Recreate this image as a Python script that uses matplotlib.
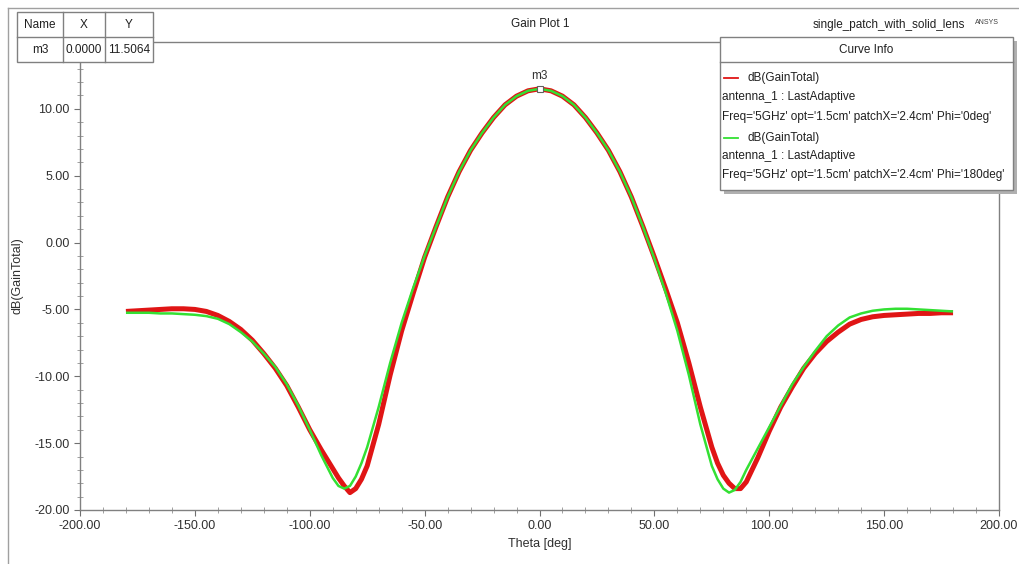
import matplotlib
matplotlib.use("Agg")
import matplotlib.pyplot as plt
from matplotlib.patches import Rectangle
from matplotlib.lines import Line2D

plt.rcParams['font.family'] = ['Liberation Sans', 'DejaVu Sans']

# Theta sweep (deg)
theta = [-180, -175, -170, -165, -160, -155, -150, -145, -140, -135, -130,
         -125, -120, -115, -110, -105, -100, -95, -90, -87.5, -85, -82.5,
         -80, -77.5, -75, -70, -65, -60, -55, -50, -45, -40, -35, -30, -25,
         -20, -15, -10, -5, 0, 5, 10, 15, 20, 25, 30, 35, 40, 45, 50, 55,
         60, 65, 70, 75, 77.5, 80, 82.5, 85, 87.5, 90, 95, 100, 105, 110,
         115, 120, 125, 130, 135, 140, 145, 150, 155, 160, 165, 170, 175, 180]

# dB(GainTotal), Phi = 0deg
gain_phi0 = [-5.15, -5.1, -5.05, -5.0, -4.95, -4.95, -5.0, -5.15, -5.45, -5.9, -6.5,
             -7.3, -8.3, -9.4, -10.7, -12.3, -14.0, -15.5, -16.9, -17.6, -18.2, -18.7,
             -18.4, -17.7, -16.7, -13.6, -9.9, -6.6, -3.8, -1.1, 1.2, 3.4, 5.3, 6.9, 8.2,
             9.35, 10.3, 10.95, 11.35, 11.5, 11.35, 10.95, 10.3, 9.35, 8.2, 6.9, 5.3, 3.4, 1.2, -1.1, -3.5,
             -6.0, -9.0, -12.3, -15.3, -16.5, -17.4, -18.0, -18.4, -18.4, -17.9, -16.1, -14.1, -12.3, -10.8,
             -9.4, -8.3, -7.4, -6.7, -6.1, -5.75, -5.55, -5.45, -5.4, -5.35, -5.3, -5.3, -5.25, -5.25]

# dB(GainTotal), Phi = 180deg
gain_phi180 = [-5.25, -5.25, -5.25, -5.3, -5.3, -5.35, -5.4, -5.5, -5.7, -6.1, -6.7,
               -7.4, -8.3, -9.3, -10.6, -12.2, -14.0, -15.9, -17.6, -18.2, -18.4, -18.2,
               -17.5, -16.5, -15.3, -12.3, -9.0, -6.0, -3.4, -1.0, 1.2, 3.4, 5.3, 6.9, 8.2,
               9.35, 10.3, 10.95, 11.35, 11.5, 11.35, 10.95, 10.3, 9.35, 8.2, 6.9, 5.3, 3.4, 1.2, -1.2, -3.8,
               -6.6, -9.9, -13.6, -16.7, -17.7, -18.4, -18.7, -18.5, -17.9, -17.0, -15.4, -13.8, -12.2, -10.6,
               -9.3, -8.1, -7.0, -6.2, -5.6, -5.3, -5.1, -5.0, -4.95, -4.95, -5.0, -5.05, -5.1, -5.15]

marker_name = 'm3'
marker_x = 0.0
marker_y = 11.5064

legend_lines = [
    ['dB(GainTotal)', 'antenna_1 : LastAdaptive',
     "Freq='5GHz' opt='1.5cm' patchX='2.4cm' Phi='0deg'"],
    ['dB(GainTotal)', 'antenna_1 : LastAdaptive',
     "Freq='5GHz' opt='1.5cm' patchX='2.4cm' Phi='180deg'"],
]
colors = ['#e01515', '#33e033']

W, H = 1019, 564
fig = plt.figure(figsize=(W / 100, H / 100), dpi=100)


def fx(px):
    return px / W


def fy(py):
    return 1 - py / H


def hline(x0, x1, y, color='#808080', lw=1.0, z=5):
    fig.add_artist(Line2D([fx(x0), fx(x1)], [fy(y), fy(y)], transform=fig.transFigure,
                          color=color, lw=lw, zorder=z))


def vline(x, y0, y1, color='#808080', lw=1.0, z=5):
    fig.add_artist(Line2D([fx(x), fx(x)], [fy(y0), fy(y1)], transform=fig.transFigure,
                          color=color, lw=lw, zorder=z))


# outer frame
hline(8, W, 8, color='#a0a0a0')
vline(8, 8, H, color='#a0a0a0')

ax = fig.add_axes([fx(80), fy(510), fx(999) - fx(80), fy(42) - fy(510)])
ax.plot(theta, gain_phi0, color=colors[0], lw=3.6, solid_capstyle='butt')
ax.plot(theta, gain_phi180, color=colors[1], lw=1.8, solid_capstyle='butt')

ax.set_xlim(-200, 200)
ax.set_ylim(-20, 15)
ax.set_xticks(range(-200, 201, 50))
ax.set_xticks(range(-200, 201, 10), minor=True)
ax.set_yticks(range(-20, 11, 5))
ax.set_yticks(range(-20, 15, 1), minor=True)
ax.xaxis.set_major_formatter(lambda v, p: f'{v:.2f}')
ax.yaxis.set_major_formatter(lambda v, p: f'{v:.2f}')
ax.tick_params(which='major', direction='out', length=4, color='#707070',
               labelsize=9, labelcolor='#303030')
ax.tick_params(which='minor', direction='inout', length=4, color='#909090')
for s in ax.spines.values():
    s.set_color('#808080')
    s.set_linewidth(1.0)
ax.set_xlabel('Theta [deg]', fontsize=9, color='#303030', labelpad=4)
ax.set_ylabel('dB(GainTotal)', fontsize=9, color='#303030', labelpad=8)

# marker
ax.plot(marker_x, marker_y, marker='s', ms=4, mfc='white', mec='#606060', mew=0.8,
        linestyle='none', zorder=5)
ax.annotate(marker_name, (marker_x, marker_y), xytext=(0, 5), textcoords='offset points',
            ha='center', va='bottom', fontsize=8.5, color='#303030')

# titles
fig.text(fx(540), fy(24), 'Gain Plot 1', ha='center', va='center', fontsize=8.5, color='#202020')
fig.text(fx(965), fy(25), 'single_patch_with_solid_lens', ha='right', va='center',
         fontsize=8.5, color='#202020')
fig.text(fx(975), fy(22), 'ANSYS', ha='left', va='center', fontsize=5, color='#404040')

# marker table
col_edges = [17, 63, 105, 153]
fig.add_artist(Rectangle((fx(17), fy(62)), fx(153) - fx(17), fy(12) - fy(62),
                         transform=fig.transFigure, facecolor='white', edgecolor='#808080',
                         lw=1.0, zorder=4))
for x in col_edges[1:-1]:
    vline(x, 12, 62)
hline(17, 153, 37)
header = ['Name', 'X', 'Y']
row = [marker_name, f'{marker_x:.4f}', f'{marker_y:.4f}']
for i in range(3):
    cx = (col_edges[i] + col_edges[i + 1]) / 2
    fig.text(fx(cx), fy(25), header[i], ha='center', va='center', fontsize=8.5,
             color='#202020', zorder=6)
    fig.text(fx(cx), fy(50), row[i], ha='center', va='center', fontsize=8.5,
             color='#202020', zorder=6)

# curve info box
fig.add_artist(Rectangle((fx(724), fy(194)), fx(1017) - fx(724), fy(41) - fy(194),
                         transform=fig.transFigure, facecolor='#b0b0b0', edgecolor='none',
                         zorder=4))
fig.add_artist(Rectangle((fx(720), fy(190)), fx(1013) - fx(720), fy(37) - fy(190),
                         transform=fig.transFigure, facecolor='white', edgecolor='#808080',
                         lw=1.0, zorder=4))
fig.text(fx(866), fy(50), 'Curve Info', ha='center', va='center', fontsize=8.5,
         color='#202020', zorder=6)
hline(720, 1013, 62)
row_y = [[78, 97, 117], [138, 156, 175]]
for k in range(2):
    hline(724, 738, row_y[k][0], color=colors[k], lw=1.3, z=6)
    fig.text(fx(748), fy(row_y[k][0]), legend_lines[k][0], ha='left', va='center',
             fontsize=8.5, color='#202020', zorder=6)
    for j in (1, 2):
        fig.text(fx(722), fy(row_y[k][j]), legend_lines[k][j], ha='left', va='center',
                 fontsize=8.5, color='#202020', zorder=6)

fig.savefig('out.png', dpi=100)
